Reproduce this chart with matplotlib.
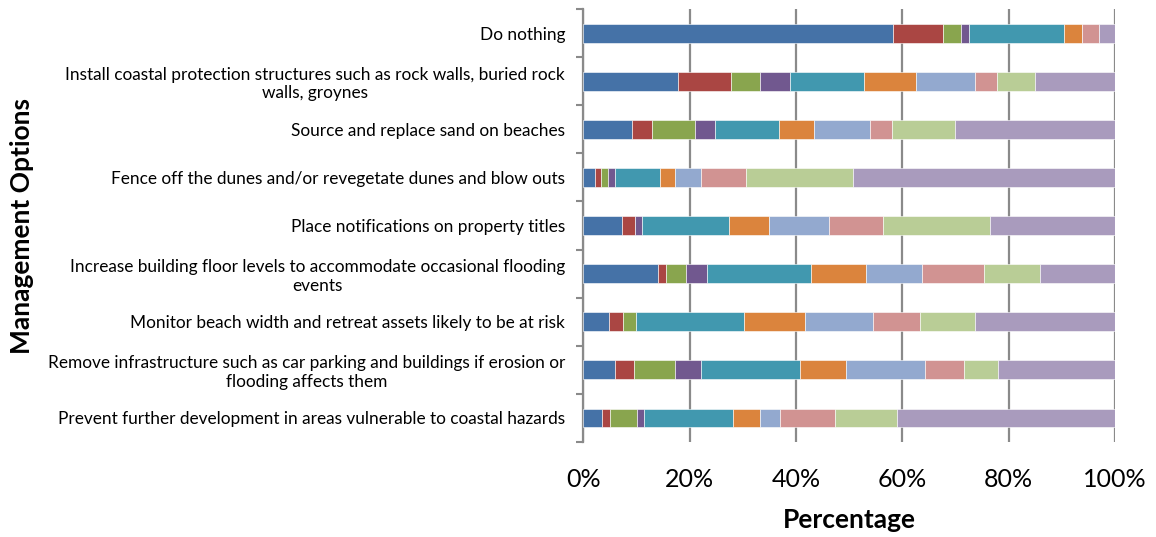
import numpy as np
import matplotlib.pyplot as plt
from matplotlib.ticker import FixedLocator, PercentFormatter

plt.rcParams['font.family'] = ['Lato', 'DejaVu Sans']

# management options, top to bottom
options = [
    'Do nothing',
    'Install coastal protection structures such as rock walls, buried rock\nwalls, groynes',
    'Source and replace sand on beaches',
    'Fence off the dunes and/or revegetate dunes and blow outs',
    'Place notifications on property titles',
    'Increase building floor levels to accommodate occasional flooding\nevents',
    'Monitor beach width and retreat assets likely to be at risk',
    'Remove infrastructure such as car parking and buildings if erosion or\nflooding affects them',
    'Prevent further development in areas vulnerable to coastal hazards',
]

# share of responses (%) per series, same order as options
series_1 = [58.2, 17.8, 9.1, 2.2, 7.3, 14.1, 4.9, 5.9, 3.6]
series_2 = [9.5, 10.0, 3.9, 1.2, 2.5, 1.4, 2.5, 3.7, 1.4]
series_3 = [3.4, 5.5, 8.0, 1.3, 0.0, 3.9, 2.6, 7.6, 5.1]
series_4 = [1.5, 5.6, 3.8, 1.2, 1.3, 3.8, 0.0, 4.9, 1.3]
series_5 = [17.9, 13.9, 12.0, 8.6, 16.3, 19.7, 20.3, 18.6, 16.7]
series_6 = [3.3, 9.7, 6.6, 2.7, 7.5, 10.3, 11.4, 8.7, 5.1]
series_7 = [0.0, 11.2, 10.6, 4.9, 11.4, 10.6, 12.8, 14.8, 3.9]
series_8 = [3.2, 4.1, 4.0, 8.6, 10.0, 11.6, 8.9, 7.5, 10.3]
series_9 = [0.0, 7.1, 11.9, 20.0, 20.2, 10.5, 10.2, 6.3, 11.6]
series_10 = [3.0, 15.1, 30.1, 49.3, 23.5, 14.1, 26.4, 22.0, 41.0]

all_series = [series_1, series_2, series_3, series_4, series_5,
              series_6, series_7, series_8, series_9, series_10]
colors = ['#4572a7', '#aa4643', '#89a54e', '#71588f', '#4198af',
          '#db843d', '#93a9cf', '#d19392', '#b9cd96', '#a99bbd']

fig = plt.figure(figsize=(11.56, 5.37), dpi=100)
ax = fig.add_axes([0.5045, 0.177, 0.460, 0.806])

y = np.arange(len(options))
left = np.zeros(len(options))
for vals, c in zip(all_series, colors):
    vals = np.array(vals)
    ax.barh(y, vals, left=left, height=0.39, color=c,
            edgecolor='white', linewidth=0.4, zorder=3)
    left += vals

ax.set_ylim(len(options) - 0.5, -0.5)
ax.set_xlim(0, 100)

ax.set_yticks(y)
ax.set_yticklabels(options, fontsize=12.4, multialignment='center')
ax.yaxis.set_minor_locator(FixedLocator(np.arange(len(options) + 1) - 0.5))
ax.tick_params(axis='y', which='major', length=0, pad=13)
ax.tick_params(axis='y', which='minor', length=5, width=1.5, color='#8a8a8a')

ax.set_xticks(np.arange(0, 101, 20))
ax.xaxis.set_major_formatter(PercentFormatter(decimals=0))
ax.tick_params(axis='x', length=0, labelsize=18, pad=19)

ax.grid(axis='x', color='#8a8a8a', linewidth=1.6, zorder=0)
for s in ['top', 'right', 'bottom']:
    ax.spines[s].set_visible(False)
ax.spines['left'].set_color('#8a8a8a')
ax.spines['left'].set_linewidth(1.6)

ax.set_xlabel('Percentage', fontsize=19, fontweight='bold', labelpad=12)
fig.text(0.019, 0.58, 'Management Options', rotation=90, fontsize=19,
         fontweight='bold', ha='center', va='center')

fig.savefig('out.png', dpi=100)
